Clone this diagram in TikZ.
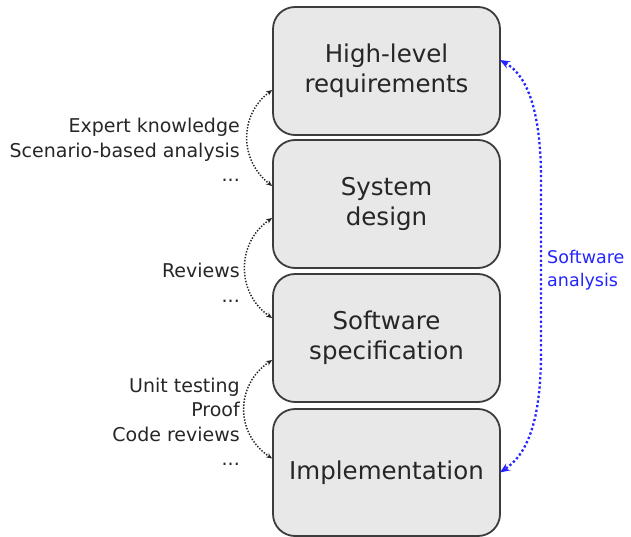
\documentclass[tikz,border=0pt]{standalone}
\usepackage{fontspec}
\setmainfont{DejaVu Sans}
\usetikzlibrary{arrows.meta,calc}
\definecolor{boxfill}{HTML}{E8E8E8}
\definecolor{boxline}{HTML}{3C3C3C}
\definecolor{txt}{HTML}{262626}
\definecolor{anablue}{HTML}{2424FF}
\tikzset{
  stage/.style={draw=boxline, fill=boxfill, line width=1.8pt, rounded corners=22pt,
    minimum width=227pt, minimum height=128pt, inner sep=0pt, align=center,
    text=txt, font=\fontsize{24.5}{30}\selectfont},
  techlbl/.style={anchor=east, align=right, inner sep=0pt, text=txt,
    font=\fontsize{19}{24.5}\selectfont},
  bluelbl/.style={anchor=west, align=left, inner sep=0pt, text=anablue,
    font=\fontsize{17.5}{23}\selectfont},
  techarrow/.style={draw=txt, line width=1.5pt, dash pattern=on 1.4pt off 1.6pt,
    {Stealth[length=6pt,width=5pt]}-{Stealth[length=6pt,width=5pt]}},
  bluearrow/.style={draw=anablue, line width=2.3pt, dash pattern=on 2.3pt off 2.4pt,
    {Stealth[length=10pt,width=8pt]}-{Stealth[length=10pt,width=8pt]}}
}
\begin{document}
\begin{tikzpicture}[x=1pt,y=-1pt]
\useasboundingbox (0,0) rectangle (631,537);
\node[stage] (hl) at (386.5,71) {High-level\\requirements};
\node[stage] (sd) at (386.5,204) {System\\design};
\node[stage] (ss) at (386.5,338) {Software\\specification};
\node[stage, minimum height=127pt] (im) at (386.5,472.5) {Implementation};

\node[techlbl] (t1) at (240,150) {Expert knowledge\\Scenario-based analysis\\...};
\node[techlbl] (t2) at (240,283) {Reviews\\...};
\node[techlbl] (t3) at (240,422) {Unit testing\\Proof\\Code reviews\\...};
\node[bluelbl] (ba) at (547,270) {Software\\analysis};

\coordinate (a1) at ($(hl.west)+(0,19)$);
\coordinate (b1) at ($(sd.west)+(0,-18)$);
\coordinate (a2) at ($(sd.west)+(0,14)$);
\coordinate (b2) at ($(ss.west)+(0,-20)$);
\coordinate (a3) at ($(ss.west)+(0,22)$);
\coordinate (b3) at ($(im.west)+(0,-14)$);
\coordinate (ta) at ($(hl.east)+(-1,-11)$);
\coordinate (tb) at ($(im.east)+(-1,0)$);

\draw[techarrow] (a1) .. controls +(-33,25) and +(-33,-26) .. (b1);
\draw[techarrow] (a2) .. controls +(-36,25) and +(-36,-25) .. (b2);
\draw[techarrow] (a3) .. controls +(-37,25) and +(-37,-25) .. (b3);
\draw[bluearrow] (ta) .. controls +(27,15) and +(0,-70) .. (541,180) -- (541,352)
  .. controls +(0,70) and +(27,-18) .. (tb);
\end{tikzpicture}
\end{document}
